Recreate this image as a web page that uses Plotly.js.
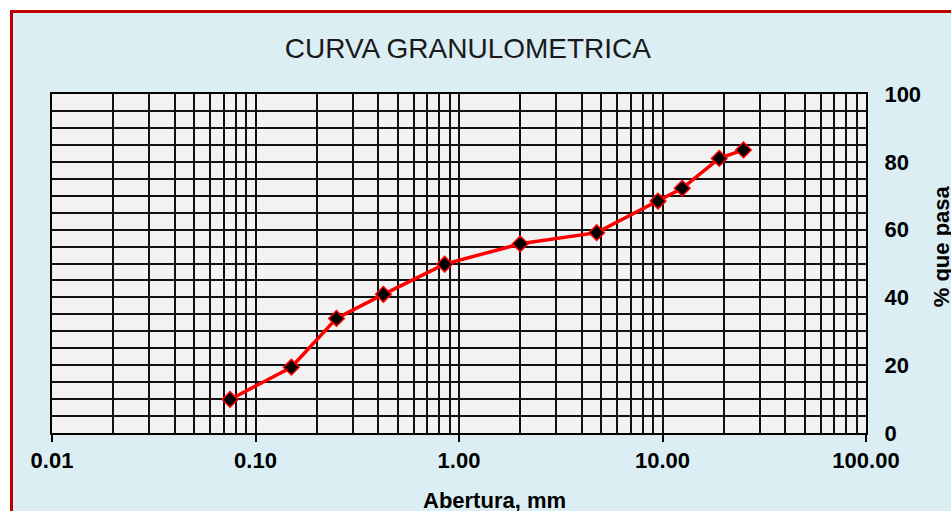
<!DOCTYPE html>
<html>
<head>
<meta charset="utf-8">
<script src="https://cdn.plot.ly/plotly-3.0.1.min.js"></script>
<style>
  html, body { margin: 0; padding: 0; background: #ffffff; width: 951px; height: 511px; overflow: hidden; }
  #frame { position: absolute; left: 10px; top: 10px; width: 941px; height: 501px; box-sizing: border-box;
           border-left: 3px solid #C00000; border-top: 3px solid #C00000; background: #DBEEF4; }
  #chart { position: absolute; left: 0; top: 0; width: 938px; height: 498px; }
</style>
</head>
<body>
<div id="frame"><div id="chart"></div></div>
<script>
// Sieve openings (mm) and percent passing
const abertura = [0.075, 0.150, 0.250, 0.425, 0.850, 2.00, 4.75, 9.50, 12.5, 19.0, 25.0];
const pasa     = [9.9, 19.4, 33.8, 40.9, 49.8, 55.8, 59.1, 68.4, 72.2, 81.0, 83.5];

const xTickVals = [0.01, 0.1, 1, 10, 100];
const xTickText = ["0.01", "0.10", "1.00", "10.00", "100.00"];
const yTickVals = [0, 20, 40, 60, 80, 100];

const titleText = "CURVA GRANULOMETRICA";
const xTitle = "Abertura, mm";
const yTitle = "% que pasa";

const font = "Liberation Sans, Arial, sans-serif";

const trace = {
  x: abertura, y: pasa, type: 'scatter', mode: 'lines+markers',
  line: { color: '#FF0000', width: 3.5 },
  marker: { symbol: 'diamond', size: 12, color: '#000000', line: { color: '#FF0000', width: 1.5 } },
  hoverinfo: 'x+y'
};

const layout = {
  width: 938, height: 498,
  margin: { l: 39, r: 85, t: 81, b: 78 },
  paper_bgcolor: 'rgba(0,0,0,0)',
  plot_bgcolor: '#F2F2F2',
  showlegend: false,
  title: { text: titleText, font: { family: font, size: 28, color: '#1a1a1a' },
           x: 0.485, xref: 'container', xanchor: 'center', y: 0.93, yref: 'container', yanchor: 'middle' },
  xaxis: {
    type: 'log', range: [-2, 2],
    tickmode: 'array', tickvals: xTickVals, ticktext: xTickText,
    ticks: 'outside', ticklen: 7, tickwidth: 2, tickcolor: '#000',
    tickfont: { family: font, size: 22, color: '#000', weight: 'bold' },
    showgrid: true, gridcolor: '#111', gridwidth: 2,
    minor: { dtick: 'D1', showgrid: true, gridcolor: '#111', gridwidth: 2, ticks: '' },
    showline: true, linecolor: '#000', linewidth: 2, mirror: true,
    zeroline: false, fixedrange: true
  },
  yaxis: {
    side: 'right', range: [0, 100],
    tickmode: 'array', tickvals: yTickVals,
    ticks: '', ticklabelstandoff: 12,
    tickfont: { family: font, size: 22, color: '#000', weight: 'bold' },
    showgrid: true, gridcolor: '#111', gridwidth: 2,
    minor: { dtick: 5, showgrid: true, gridcolor: '#111', gridwidth: 2, ticks: '' },
    showline: true, linecolor: '#000', linewidth: 2, mirror: true,
    zeroline: false, fixedrange: true
  },
  annotations: [
    { text: xTitle, xref: 'paper', yref: 'paper', x: 0.543, y: -0.2, xanchor: 'center', yanchor: 'middle',
      showarrow: false, font: { family: font, size: 22, color: '#000', weight: 'bold' } },
    { text: yTitle, xref: 'paper', yref: 'paper', x: 1.093, y: 0.55, xanchor: 'center', yanchor: 'middle',
      textangle: -90, showarrow: false, font: { family: font, size: 22, color: '#000', weight: 'bold' } }
  ]
};

Plotly.newPlot('chart', [trace], layout, { displayModeBar: false, staticPlot: true });
</script>
</body>
</html>
